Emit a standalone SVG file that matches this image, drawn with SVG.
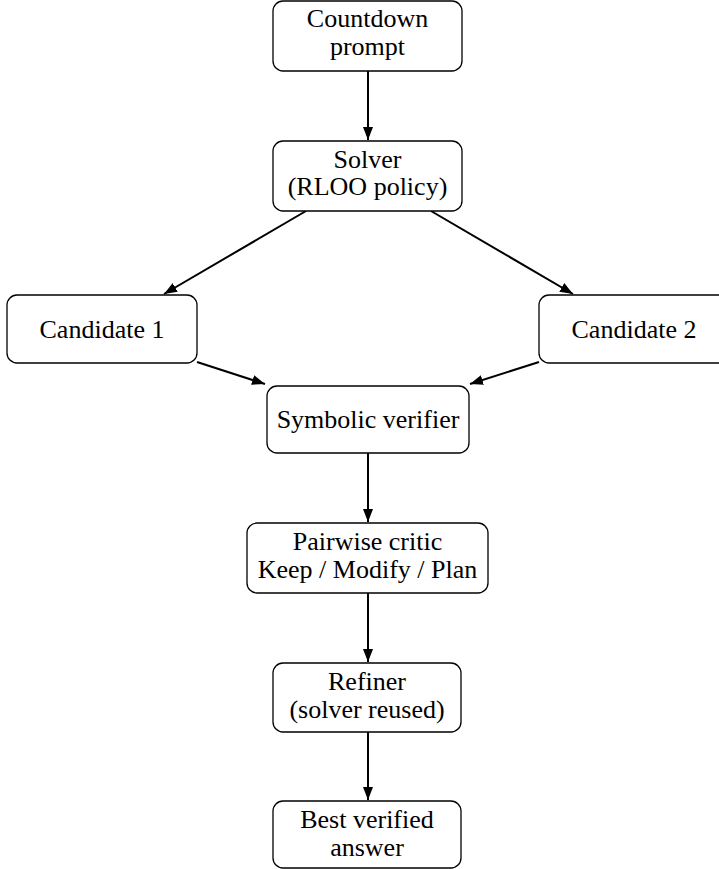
<svg xmlns="http://www.w3.org/2000/svg" width="719" height="869" viewBox="0 0 719 869">
<style>
.box{fill:#fff;stroke:#000;stroke-width:1.3}
.t{font-family:"Liberation Serif","Times New Roman",serif;font-size:26px;fill:#000;text-anchor:middle}
.c{stroke:#000;stroke-width:2;fill:none;marker-end:url(#ah)}
</style>
<defs>
<marker id="ah" markerUnits="userSpaceOnUse" markerWidth="14" markerHeight="12" refX="13" refY="6" orient="auto">
<path d="M0,1 L13,6 L0,11 Z" fill="#000"/>
</marker>
</defs>
<rect width="719" height="869" fill="#fff"/>
<g id="connectors">
<line class="c" x1="368" y1="71" x2="368" y2="140"/>
<line class="c" x1="306" y1="211" x2="164" y2="294"/>
<line class="c" x1="431" y1="211" x2="573" y2="294"/>
<line class="c" x1="197" y1="362" x2="265" y2="384"/>
<line class="c" x1="539" y1="362" x2="470" y2="384"/>
<line class="c" x1="368" y1="453" x2="368" y2="522"/>
<line class="c" x1="368" y1="593" x2="368" y2="662"/>
<line class="c" x1="368" y1="732" x2="368" y2="800"/>
</g>
<g id="countdown">
<rect class="box" x="273" y="1" width="189" height="70" rx="10"/>
<text class="t" x="367.5" y="27">Countdown</text>
<text class="t" x="367.5" y="55">prompt</text>
</g>
<g id="solver">
<rect class="box" x="273" y="141" width="189" height="70" rx="10"/>
<text class="t" x="367.5" y="168">Solver</text>
<text class="t" x="367.5" y="195">(RLOO policy)</text>
</g>
<g id="candidate1">
<rect class="box" x="7" y="295" width="190" height="68" rx="10"/>
<text class="t" x="102" y="338">Candidate 1</text>
</g>
<g id="candidate2">
<rect class="box" x="539" y="295" width="190" height="68" rx="10"/>
<text class="t" x="634" y="338">Candidate 2</text>
</g>
<g id="verifier">
<rect class="box" x="267" y="386" width="202" height="67" rx="10"/>
<text class="t" x="368" y="428">Symbolic verifier</text>
</g>
<g id="critic">
<rect class="box" x="247" y="523" width="241" height="70" rx="10"/>
<text class="t" x="367.5" y="550">Pairwise critic</text>
<text class="t" x="367.5" y="578">Keep / Modify / Plan</text>
</g>
<g id="refiner">
<rect class="box" x="273" y="663" width="188" height="69" rx="10"/>
<text class="t" x="367" y="690">Refiner</text>
<text class="t" x="367" y="718">(solver reused)</text>
</g>
<g id="best">
<rect class="box" x="273" y="801" width="188" height="67" rx="10"/>
<text class="t" x="367" y="828">Best verified</text>
<text class="t" x="367" y="856">answer</text>
</g>
</svg>
